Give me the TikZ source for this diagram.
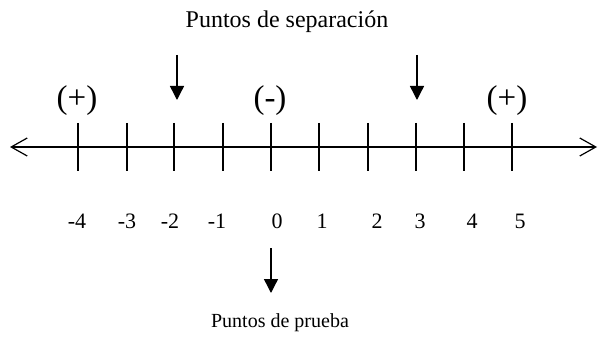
\documentclass[tikz,border=0pt]{standalone}
\usepackage{fontspec}
\setmainfont{Liberation Serif}
\usetikzlibrary{arrows.meta}
\tikzset{
  every picture/.style={line width=1.4pt},
  axisline/.style={{Straight Barb[length=16pt,width=18pt]}-{Straight Barb[length=16pt,width=18pt]}, line width=1.2pt},
  axistick/.style={line width=1.5pt},
  pointer/.style={-{Triangle[length=14pt,width=14pt]}, line width=1.4pt},
  numlabel/.style={font=\fontsize{22}{22}\selectfont, inner sep=0pt, anchor=base},
  signlabel/.style={font=\fontsize{33}{33}\selectfont, inner sep=0pt, anchor=base},
  caption/.style={font=\fontsize{#1}{#1}\selectfont, inner sep=0pt, anchor=base},
  caption/.default=24,
}

\begin{document}
\begin{tikzpicture}[x=1pt, y=-1pt]
  \useasboundingbox (0,0) rectangle (598,345);
  % the number line
  \coordinate (left) at (10,147);
  \coordinate (right) at (597,147);
  \draw[axisline] (left) -- (right);
  \foreach \x in {78,127,174,223,271,319,368,416,464,512}
    \draw[axistick] (\x,123) -- (\x,171);
  \foreach \x/\n [count=\i] in {77/-4,127/-3,170/-2,217/-1,277/0,322/1,377/2,420/3,472/4,520/5}
    \node[numlabel] (num\i) at (\x,229) {\n};
  % signs of the intervals
  \node[signlabel] (signA) at (77,109) {(+)};
  \node[signlabel] (signB) at (270,109) {(-)};
  \node[signlabel] (signC) at (507,109) {(+)};
  % separation points
  \node[caption] (sep) at (287,28) {Puntos de separación};
  \coordinate (sepA) at (177,55);
  \coordinate (sepAend) at (177,100);
  \coordinate (sepB) at (417,55);
  \coordinate (sepBend) at (417,100);
  \draw[pointer] (sepA) -- (sepAend);
  \draw[pointer] (sepB) -- (sepBend);
  % test point
  \coordinate (test) at (271,248);
  \coordinate (testend) at (271,293);
  \draw[pointer] (test) -- (testend);
  \node[caption=20] (prueba) at (280,327) {Puntos de prueba};
\end{tikzpicture}
\end{document}
